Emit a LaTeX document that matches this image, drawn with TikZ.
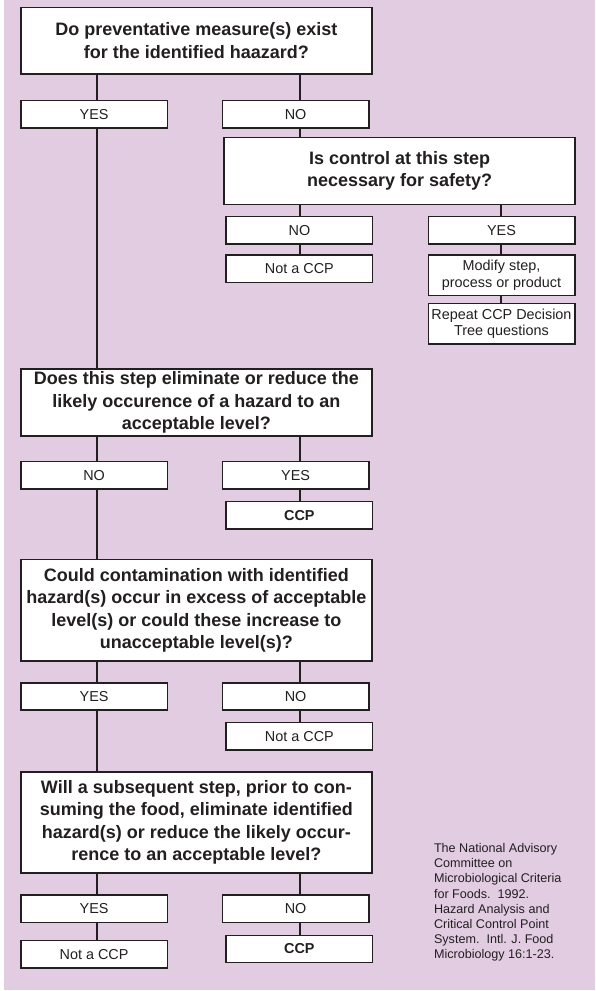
\documentclass[tikz,border=0pt]{standalone}
\usepackage{fontspec}
\setmainfont{Liberation Sans}
\definecolor{bgpink}{RGB}{226,204,226}
\definecolor{ink}{RGB}{35,31,32}
\tikzset{
  qbox/.style={draw=ink, fill=white, line width=1.6pt, text=ink, align=center,
    inner sep=0pt, minimum width=351pt, font=\bfseries\fontsize{18}{22.4}\selectfont},
  abox/.style={draw=ink, fill=white, line width=1.6pt, text=ink, align=center,
    inner sep=0pt, minimum width=146.4pt, minimum height=27.3pt,
    font=\fontsize{14.4}{16.7}\selectfont},
  link/.style={draw=ink, line width=1.6pt}
}
\begin{document}
\begin{tikzpicture}[x=1pt, y=-1pt]
      \useasboundingbox (0, 0) rectangle (595, 991);
      \fill [white] (0, 0) rectangle (595, 991);
      \fill [bgpink] (4, 0) rectangle (595, 990);
      \coordinate (colA) at (96.8, 0);
      \coordinate (colB) at (299.8, 0);
      \coordinate (colC) at (500.9, 0);
      \node [qbox, minimum height=66.7pt] (q1) at (196.4, 40.7)
        {Do preventative measure(s) exist\\for the identified haazard?};
      \node [abox] (yes1) at (94.1, 114.3) {YES};
      \node [abox] (no1) at (295.6, 114.3) {NO};
      \node [qbox, minimum height=66.7pt] (q2) at (399.6, 171)
        {Is control at this step\\necessary for safety?};
      \node [abox] (no2) at (299.4, 230.3) {NO};
      \node [abox] (yes2) at (501.5, 230.3) {YES};
      \node [abox] (notccpA) at (299.4, 268.7) {Not a CCP};
      \node [abox, minimum height=40.3pt] (modify) at (501.5, 275.2)
        {Modify step,\\process or product};
      \node [abox, minimum height=40.7pt] (repeat) at (501.5, 323.7)
        {Repeat CCP Decision\\Tree questions};
      \node [qbox, minimum height=67pt] (q3) at (196.4, 402.5)
        {Does this step eliminate or reduce the\\likely occurence of a hazard to an\\acceptable level?};
      \node [abox] (no3) at (94.1, 475.3) {NO};
      \node [abox] (yes3) at (295.6, 475.3) {YES};
      \node [abox, font=\bfseries\fontsize{14.4}{16.7}\selectfont] (ccpA) at (299.4, 515.3) {CCP};
      \node [qbox, minimum height=101.7pt] (q4) at (196.4, 610.2)
        {Could contamination with identified\\hazard(s) occur in excess of acceptable\\level(s) or could these increase to\\unacceptable level(s)?};
      \node [abox] (yes4) at (94.1, 696.5) {YES};
      \node [abox] (no4) at (295.6, 696.5) {NO};
      \node [abox] (notccpB) at (299.4, 736.3) {Not a CCP};
      \node [qbox, minimum height=101pt] (q5) at (196.4, 822.2)
        {Will a subsequent step, prior to con-\\suming the food, eliminate identified\\hazard(s) or reduce the likely occur-\\rence to an acceptable level?};
      \node [abox] (yes5) at (94.1, 908.7) {YES};
      \node [abox] (no5) at (295.6, 908.7) {NO};
      \node [abox] (notccpC) at (94.1, 954.3) {Not a CCP};
      \node [abox, font=\bfseries\fontsize{14.4}{16.7}\selectfont] (ccpB) at (299.4, 949) {CCP};
      \node [anchor=north west, inner sep=0pt, align=left, text=ink,
        font=\fontsize{12.6}{15.1}\selectfont] (source) at (433.8, 843.4)
        {The National Advisory\\Committee on\\Microbiological Criteria\\for Foods.\ \ 1992.\\Hazard Analysis and\\Critical Control Point\\System.\ \ Intl. J. Food\\Microbiology 16:1-23.};
      \draw [link] (q1.south -| colA) -- (yes1.north -| colA)
        (yes1.south -| colA) -- (q3.north -| colA)
        (q3.south -| colA) -- (no3.north -| colA)
        (no3.south -| colA) -- (q4.north -| colA)
        (q4.south -| colA) -- (yes4.north -| colA)
        (yes4.south -| colA) -- (q5.north -| colA)
        (q5.south -| colA) -- (yes5.north -| colA)
        (yes5.south -| colA) -- (notccpC.north -| colA);
      \draw [link] (q1.south -| colB) -- (no1.north -| colB)
        (no1.south -| colB) -- (q2.north -| colB)
        (q2.south -| colB) -- (no2.north -| colB)
        (no2.south -| colB) -- (notccpA.north -| colB)
        (q3.south -| colB) -- (yes3.north -| colB)
        (yes3.south -| colB) -- (ccpA.north -| colB)
        (q4.south -| colB) -- (no4.north -| colB)
        (no4.south -| colB) -- (notccpB.north -| colB)
        (q5.south -| colB) -- (no5.north -| colB)
        (no5.south -| colB) -- (ccpB.north -| colB);
      \draw [link] (q2.south -| colC) -- (yes2.north -| colC)
        (yes2.south -| colC) -- (modify.north -| colC)
        (modify.south -| colC) -- (repeat.north -| colC);
    \end{tikzpicture}
\end{document}
